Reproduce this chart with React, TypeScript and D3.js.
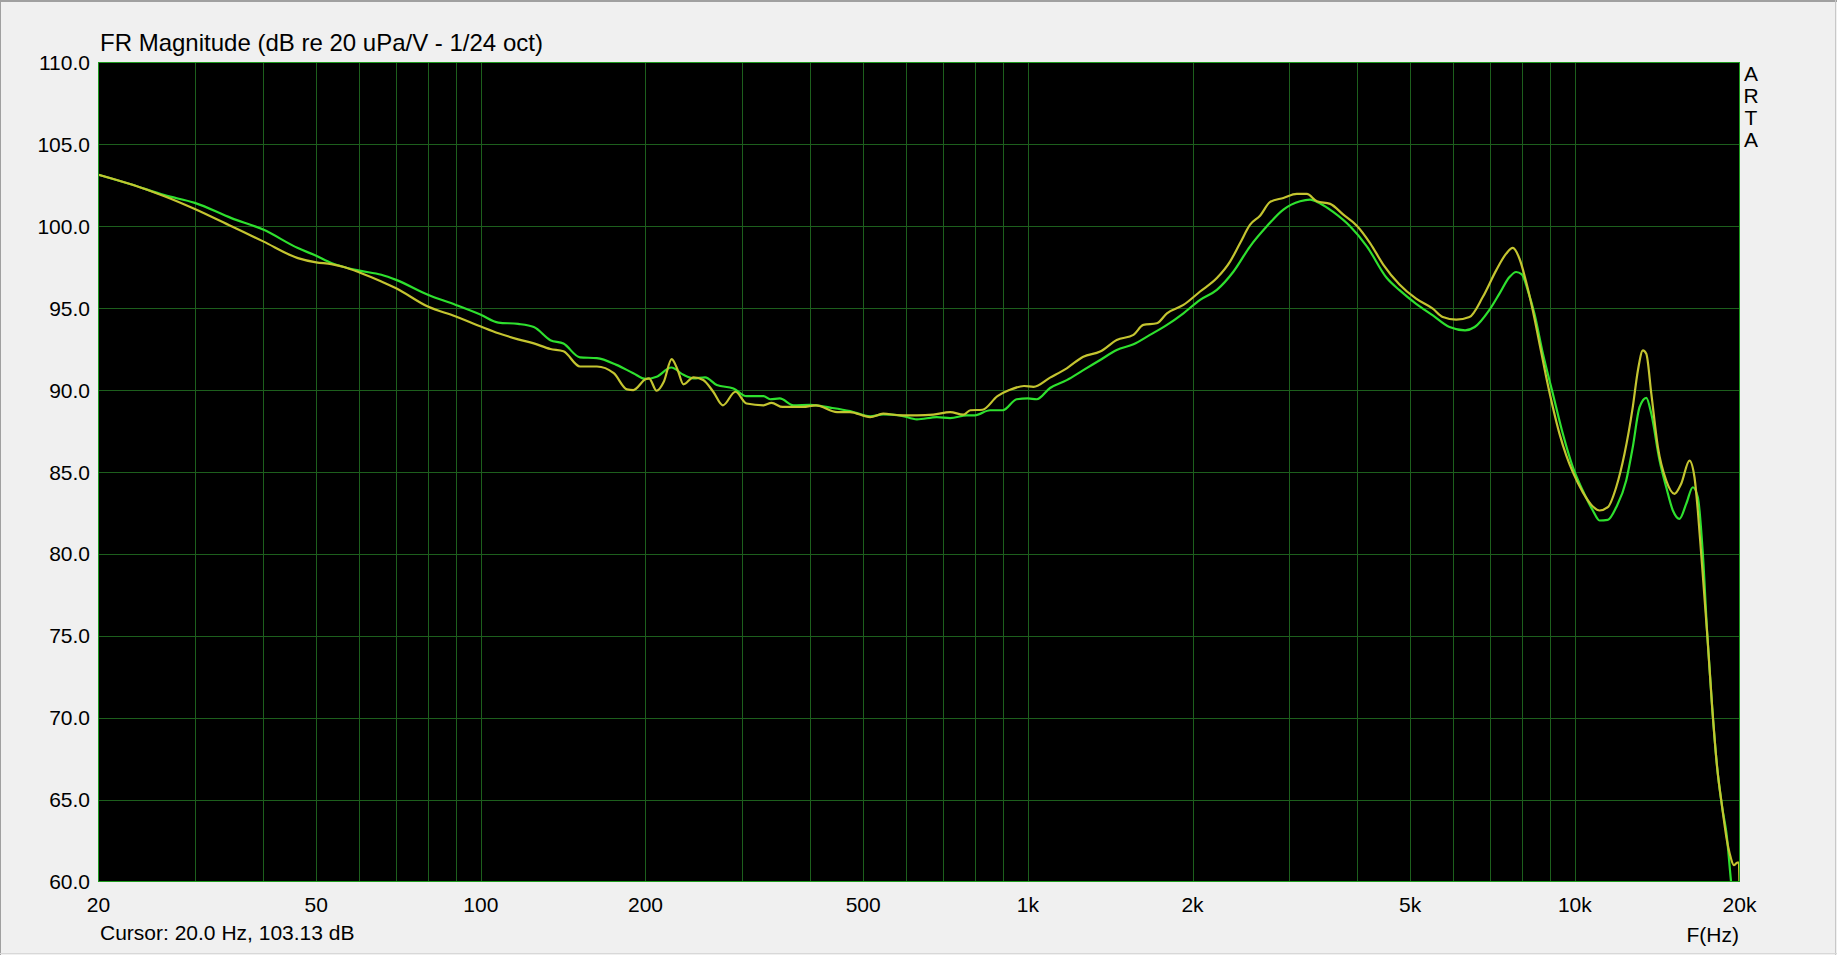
import { useRef, useEffect } from "react";
import * as d3 from "d3";

// ARTA FR magnitude, two channels: [Hz, dB]
const greenCurve: [number, number][] = [
  [20, 103.15], [23, 102.55], [26.4, 101.9], [30, 101.43], [35, 100.5], [40, 99.8],
  [46.3, 98.67], [50, 98.2], [53.3, 97.76], [56.4, 97.5], [60, 97.29], [65.8, 97.04],
  [70, 96.73], [80, 95.82], [90, 95.2], [100, 94.6], [107.7, 94.12], [117, 94.04],
  [125, 93.85], [134, 93.05], [141.6, 92.84], [151.8, 92.0], [163, 91.95], [177, 91.54],
  [190, 91.03], [200, 90.68], [209.6, 90.82], [223, 91.38], [234.6, 90.93], [244.8, 90.72],
  [257, 90.78], [270, 90.31], [289.6, 90.1], [306, 89.63], [328.7, 89.63], [338, 89.44],
  [352, 89.49], [372.8, 89.07], [400, 89.1], [435, 88.93], [473, 88.72], [515, 88.4],
  [544, 88.52], [584, 88.46], [627, 88.21], [682, 88.35], [721, 88.29], [773, 88.46],
  [800, 88.46], [853, 88.77], [900, 88.77], [954, 89.44], [1000, 89.49], [1038, 89.44],
  [1098, 90.13], [1178, 90.61], [1263, 91.22], [1356, 91.84], [1454, 92.45], [1560, 92.8],
  [1672, 93.37], [1796, 93.98], [1925, 94.69], [2065, 95.51], [2216, 96.12], [2377, 97.24],
  [2549, 98.78], [2735, 100.0], [2932, 101.02], [3146, 101.53], [3280, 101.63], [3424, 101.39],
  [3620, 100.86], [3882, 100.0], [4166, 98.78], [4532, 96.84], [4780, 96.1], [5127, 95.27],
  [5500, 94.56], [5900, 93.85], [6300, 93.65], [6560, 93.85], [6970, 94.87], [7281, 95.89],
  [7595, 96.9], [7811, 97.21], [8000, 97.07], [8203, 96.09], [8437, 94.66], [8743, 92.22],
  [9116, 89.78], [9508, 87.33], [9916, 85.3], [10339, 83.87], [10787, 82.65], [11094, 82.04],
  [11489, 82.08], [11902, 82.85], [12414, 84.48], [12762, 86.52], [13132, 88.96], [13509, 89.53],
  [13798, 88.55], [14287, 85.7], [14693, 84.07], [15110, 82.65], [15538, 82.14], [15980, 83.05],
  [16432, 84.07], [16781, 83.46], [17140, 80.0], [17460, 75.1], [17830, 70.6], [18200, 67],
  [18600, 64.5], [18940, 62.9], [19300, 60.0], [19600, 58],
];

const yellowCurve: [number, number][] = [
  [20, 103.15], [23, 102.55], [26.4, 101.84], [30, 101.06], [35, 100.0], [40, 99.08],
  [46.3, 98.06], [50, 97.8], [53.3, 97.69], [56.4, 97.5], [60, 97.18], [65.8, 96.63],
  [70, 96.22], [80, 95.1], [90, 94.49], [100, 93.88], [107.7, 93.47], [117, 93.1],
  [125, 92.85], [134, 92.51], [141.6, 92.37], [151.8, 91.44], [163, 91.44], [175, 91.03],
  [185, 90.04], [190, 90.0], [200, 90.66], [203, 90.72], [209.6, 89.96], [216, 90.51],
  [223.3, 91.89], [229, 91.23], [234.6, 90.35], [244.8, 90.78], [255, 90.62], [266, 89.9],
  [277, 89.07], [292, 89.9], [306, 89.18], [328.7, 89.07], [340, 89.22], [356, 88.97],
  [388, 88.97], [410, 89.07], [448, 88.66], [473, 88.66], [515, 88.35], [544, 88.56],
  [584, 88.46], [627, 88.46], [672, 88.5], [721, 88.66], [762, 88.5], [785, 88.77],
  [826, 88.8], [880, 89.63], [925, 90.0], [984, 90.25], [1024, 90.2], [1098, 90.76],
  [1178, 91.33], [1263, 92.04], [1356, 92.35], [1454, 93.06], [1560, 93.37], [1626, 93.98],
  [1721, 94.08], [1796, 94.69], [1925, 95.2], [2065, 96.02], [2216, 96.84], [2344, 97.86],
  [2444, 98.98], [2549, 100.1], [2658, 100.65], [2774, 101.49], [2932, 101.73], [3102, 101.98],
  [3236, 101.98], [3376, 101.53], [3570, 101.37], [3774, 100.71], [3994, 100.04], [4223, 98.98],
  [4467, 97.65], [4780, 96.45], [5127, 95.58], [5500, 94.97], [5737, 94.46], [6069, 94.3],
  [6417, 94.46], [6787, 95.68], [7181, 97.31], [7491, 98.33], [7701, 98.68], [7922, 98.02],
  [8148, 96.6], [8377, 94.87], [8619, 92.83], [8866, 90.79], [9116, 88.96], [9376, 87.33],
  [9644, 86.01], [9916, 84.99], [10339, 83.77], [10787, 82.89], [11094, 82.65], [11489, 82.85],
  [11902, 84.07], [12326, 86.11], [12762, 88.96], [13040, 91.2], [13317, 92.42], [13509, 92.22],
  [13798, 89.78], [14186, 86.52], [14693, 84.48], [15215, 83.67], [15646, 84.28], [16203, 85.7],
  [16547, 84.68], [16781, 82.65], [17022, 80.0], [17460, 75.1], [17830, 70.6], [18200, 67],
  [18600, 64.5], [18970, 62.5], [19260, 61.5], [19530, 61.0], [19810, 61.15], [19950, 61.15],
  [20000, 59.5],
];

const xTickValues = [20, 50, 100, 200, 500, 1000, 2000, 5000, 10000, 20000];
const xTickLabels = ["20", "50", "100", "200", "500", "1k", "2k", "5k", "10k", "20k"];
const xGridValues = [
  30, 40, 50, 60, 70, 80, 90, 100, 200, 300, 400, 500, 600, 700, 800, 900,
  1000, 2000, 3000, 4000, 5000, 6000, 7000, 8000, 9000, 10000,
];
const yTickValues = [110, 105, 100, 95, 90, 85, 80, 75, 70, 65, 60];

const W = 1837;
const H = 955;
const FONT = "'Liberation Sans', Arial, sans-serif";

const App = () => {
  const svgRef = useRef<SVGSVGElement>(null);

  useEffect(() => {
    const svg = d3.select(svgRef.current);
    svg.selectAll("*").remove();

    const left = 98.5, right = 1739.5, top = 62.5, bottom = 881.5;
    const x = d3.scaleLog().domain([20, 20000]).range([left, right]);
    const y = d3.scaleLinear().domain([60, 110]).range([bottom, top]);

    // window background + frame
    svg.append("rect").attr("width", W).attr("height", H).attr("fill", "#f0f0f0");
    svg.append("rect").attr("x", 0).attr("y", 0).attr("width", W).attr("height", 2).attr("fill", "#a0a0a0");
    svg.append("rect").attr("x", 0).attr("y", 0).attr("width", 1).attr("height", H).attr("fill", "#a0a0a0");
    svg.append("rect").attr("x", 1835).attr("y", 0).attr("width", 1).attr("height", H).attr("fill", "#c8c8c8");
    svg.append("rect").attr("x", 0).attr("y", 953).attr("width", W).attr("height", 1).attr("fill", "#d8d8d8");

    svg.append("rect")
      .attr("x", left).attr("y", top)
      .attr("width", right - left).attr("height", bottom - top)
      .attr("fill", "#000");

    svg.append("defs").append("clipPath").attr("id", "plotclip")
      .append("rect")
      .attr("x", left).attr("y", top)
      .attr("width", right - left).attr("height", bottom - top);

    const grid = svg.append("g").attr("stroke", "#1d5f1d").attr("stroke-width", 1);
    grid.selectAll("line.v").data(xGridValues).enter().append("line")
      .attr("class", "v")
      .attr("x1", (d) => Math.round(x(d)) + 0.5).attr("x2", (d) => Math.round(x(d)) + 0.5)
      .attr("y1", top).attr("y2", bottom);
    grid.selectAll("line.h").data(yTickValues.slice(1, -1)).enter().append("line")
      .attr("class", "h")
      .attr("y1", (d) => Math.round(y(d)) + 0.5).attr("y2", (d) => Math.round(y(d)) + 0.5)
      .attr("x1", left).attr("x2", right);

    const line = d3.line<[number, number]>()
      .x((d) => x(d[0]))
      .y((d) => y(d[1]))
      .curve(d3.curveMonotoneX);

    const curves = svg.append("g").attr("clip-path", "url(#plotclip)");
    curves.append("path").datum(greenCurve)
      .attr("d", line).attr("fill", "none")
      .attr("stroke", "#2ee02e").attr("stroke-width", 2.2);
    curves.append("path").datum(yellowCurve)
      .attr("d", line).attr("fill", "none")
      .attr("stroke", "#c4c430").attr("stroke-width", 2.2);

    svg.append("rect")
      .attr("x", left).attr("y", top)
      .attr("width", right - left).attr("height", bottom - top)
      .attr("fill", "none").attr("stroke", "#1e9a1e").attr("stroke-width", 1);

    // y tick labels
    svg.append("g").selectAll("text").data(yTickValues).enter().append("text")
      .attr("x", 90).attr("y", (d) => y(d) + 7.5)
      .attr("text-anchor", "end")
      .attr("font-family", FONT).attr("font-size", 21).attr("fill", "#000")
      .text((d) => d.toFixed(1));

    // x tick labels
    svg.append("g").selectAll("text").data(xTickValues).enter().append("text")
      .attr("x", (d) => x(d)).attr("y", 912)
      .attr("text-anchor", "middle")
      .attr("font-family", FONT).attr("font-size", 21).attr("fill", "#000")
      .text((_, i) => xTickLabels[i]);

    svg.append("text")
      .attr("x", 100).attr("y", 51)
      .attr("font-family", FONT).attr("font-size", 24).attr("fill", "#000")
      .text("FR Magnitude (dB re 20 uPa/V - 1/24 oct)");

    svg.append("text")
      .attr("x", 100).attr("y", 940)
      .attr("font-family", FONT).attr("font-size", 21).attr("fill", "#000")
      .text("Cursor: 20.0 Hz, 103.13 dB");

    svg.append("text")
      .attr("x", 1739).attr("y", 942)
      .attr("text-anchor", "end")
      .attr("font-family", FONT).attr("font-size", 21).attr("fill", "#000")
      .text("F(Hz)");

    svg.append("g").selectAll("text").data(["A", "R", "T", "A"]).enter().append("text")
      .attr("x", 1751).attr("y", (_, i) => 81 + i * 22)
      .attr("text-anchor", "middle")
      .attr("font-family", FONT).attr("font-size", 21).attr("fill", "#000")
      .text((d) => d);
  }, []);

  return (
    <>
      <style>{`body{margin:0;overflow:hidden}`}</style>
      <svg ref={svgRef} width={W} height={H} style={{ display: "block" }} />
    </>
  );
};

export default App;
